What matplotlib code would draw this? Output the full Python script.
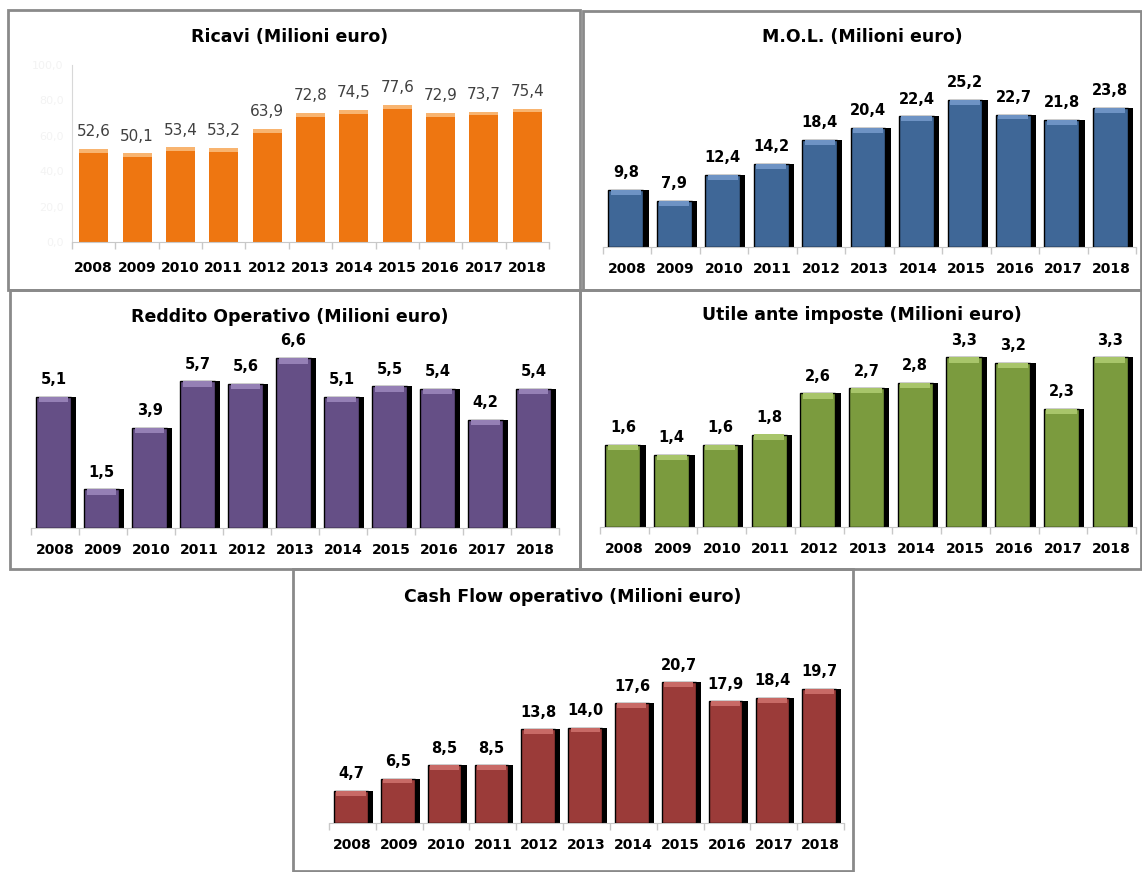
import numpy as np
import matplotlib.pyplot as plt
from matplotlib.patches import Rectangle

W, H = 1142, 872

years = ['2008', '2009', '2010', '2011', '2012', '2013', '2014', '2015', '2016', '2017', '2018']
ricavi = [52.6, 50.1, 53.4, 53.2, 63.9, 72.8, 74.5, 77.6, 72.9, 73.7, 75.4]
mol = [9.8, 7.9, 12.4, 14.2, 18.4, 20.4, 22.4, 25.2, 22.7, 21.8, 23.8]
reddito = [5.1, 1.5, 3.9, 5.7, 5.6, 6.6, 5.1, 5.5, 5.4, 4.2, 5.4]
utile = [1.6, 1.4, 1.6, 1.8, 2.6, 2.7, 2.8, 3.3, 3.2, 2.3, 3.3]
cashflow = [4.7, 6.5, 8.5, 8.5, 13.8, 14.0, 17.6, 20.7, 17.9, 18.4, 19.7]

fig = plt.figure(figsize=(W / 100, H / 100), dpi=100)


def fmt(v):
    return ('%.1f' % v).replace('.', ',')


def px_axes(x0, x1, base, top):
    return fig.add_axes([x0 / W, 1 - base / H, (x1 - x0) / W, (base - top) / H])


def frame(x0, y0, x1, y1):
    fig.patches.append(Rectangle((x0 / W, 1 - y1 / H), (x1 - x0) / W, (y1 - y0) / H,
                                 transform=fig.transFigure, fill=False,
                                 edgecolor='#8a8a8a', lw=2))


def style_axes(ax, n, pad):
    ax.set_xlim(-0.5, n - 0.5)
    ax.set_xticks(range(n))
    ax.set_xticklabels(years, fontsize=10, fontweight='bold')
    ax.set_xticks(np.arange(-0.5, n), minor=True)
    ax.tick_params(axis='x', which='major', length=0, pad=pad)
    ax.tick_params(axis='x', which='minor', length=5, color='#c8c8c8', width=1)
    for s in ['top', 'right', 'left']:
        ax.spines[s].set_visible(False)
    ax.spines['bottom'].set_color('#c8c8c8')
    ax.set_yticks([])
    ax.patch.set_alpha(0)


def shaded_bars(ax, vals, color, light, top):
    n = len(vals)
    x = np.arange(n)
    v = np.array(vals)
    cap = top * 0.028
    ax.bar(x + 0.05, v, width=0.78, color='black', zorder=2)
    ax.bar(x - 0.03, v, width=0.72, color=color, edgecolor='black', lw=1, zorder=3)
    ax.bar(x - 0.03, np.full(n, cap), bottom=v - cap, width=0.62, color=light, zorder=4)
    for xi, vi in zip(x, v):
        ax.annotate(fmt(vi), (xi - 0.03, vi), xytext=(0, 7), textcoords='offset points',
                    ha='center', va='bottom', fontsize=10.5, fontweight='bold')
    ax.set_ylim(0, top)
    style_axes(ax, n, 11)


# frames
frame(8, 10, 580, 290)
frame(583, 11, 1141, 290)
frame(10, 290, 580, 569)
frame(580, 290, 1141, 569)
frame(293, 569, 853, 871)

# Ricavi
ax1 = px_axes(72, 549, 242, 65)
x = np.arange(len(ricavi))
r = np.array(ricavi)
ax1.bar(x, r, width=0.67, color='#EE7611', zorder=2)
ax1.bar(x, np.full(len(r), 2.2), bottom=r - 2.2, width=0.67, color='#F8B470', zorder=3)
for xi, vi in zip(x, r):
    ax1.annotate(fmt(vi), (xi, vi), xytext=(0, 7), textcoords='offset points',
                 ha='center', va='bottom', fontsize=11, color='#404040')
ax1.set_ylim(0, 100)
style_axes(ax1, len(ricavi), 14)
ax1.spines['left'].set_visible(True)
ax1.spines['left'].set_color('#d8d8d8')
ax1.set_yticks([0, 20, 40, 60, 80, 100])
ax1.set_yticklabels([fmt(t) for t in [0, 20, 40, 60, 80, 100]], fontsize=8, color='#f3f3f3')
ax1.tick_params(axis='y', length=0, pad=6)
fig.text(290 / W, 1 - 37 / H, 'Ricavi (Milioni euro)', ha='center', va='center',
         fontsize=12.5, fontweight='bold')

# MOL
ax2 = px_axes(603, 1136, 247, 72)
shaded_bars(ax2, mol, '#3F6797', '#6E93C4', 30)
fig.text(862 / W, 1 - 37 / H, 'M.O.L. (Milioni euro)', ha='center', va='center',
         fontsize=12.5, fontweight='bold')

# Reddito Operativo
ax3 = px_axes(31, 559, 528, 335)
shaded_bars(ax3, reddito, '#654F86', '#9580B5', 7.5)
fig.text(290 / W, 1 - 317 / H, 'Reddito Operativo (Milioni euro)', ha='center', va='center',
         fontsize=12.5, fontweight='bold')

# Utile ante imposte
ax4 = px_axes(600, 1136, 527, 342)
shaded_bars(ax4, utile, '#7B9B3E', '#A8C56A', 3.6)
fig.text(862 / W, 1 - 315 / H, 'Utile ante imposte (Milioni euro)', ha='center', va='center',
         fontsize=12.5, fontweight='bold')

# Cash Flow operativo
ax5 = px_axes(329, 844, 823, 660)
shaded_bars(ax5, cashflow, '#9B3B39', '#C86A66', 24)
fig.text(573 / W, 1 - 597 / H, 'Cash Flow operativo (Milioni euro)', ha='center', va='center',
         fontsize=12.5, fontweight='bold')

fig.savefig('out.png', dpi=100, facecolor='white')
